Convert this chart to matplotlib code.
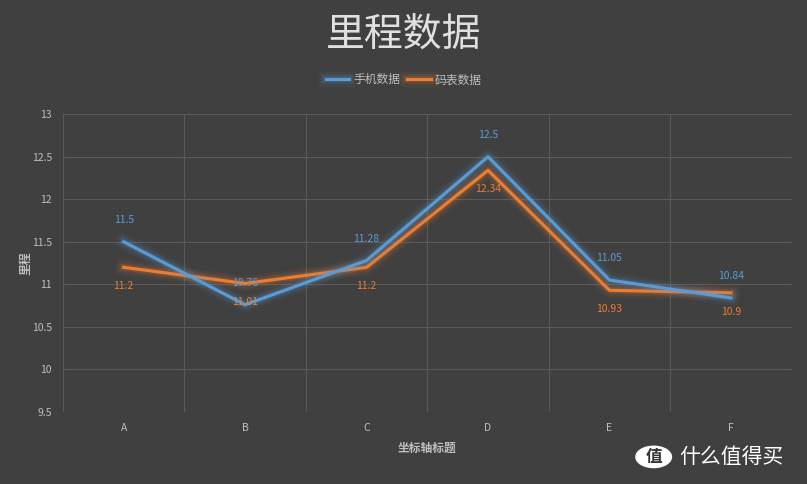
import matplotlib
matplotlib.use("Agg")
import matplotlib.pyplot as plt
import matplotlib.patheffects as pe
from matplotlib.patches import Circle

plt.rcParams['font.family'] = ['Noto Sans CJK SC', 'DejaVu Sans']

categories = ['A', 'B', 'C', 'D', 'E', 'F']
phone = [11.5, 10.76, 11.28, 12.5, 11.05, 10.84]
watch = [11.2, 11.01, 11.2, 12.34, 10.93, 10.9]
phone_labels = ['11.5', '10.76', '11.28', '12.5', '11.05', '10.84']
watch_labels = ['11.2', '11.01', '11.2', '12.34', '10.93', '10.9']
yticks = [9.5, 10, 10.5, 11, 11.5, 12, 12.5, 13]
ytick_labels = ['9.5', '10', '10.5', '11', '11.5', '12', '12.5', '13']

bg = '#404040'
grid = '#595959'
txt = '#bfbfbf'
blue = '#5b9bd5'
orange = '#ed7d31'

fig = plt.figure(figsize=(8.07, 4.84), dpi=100, facecolor=bg)
ax = fig.add_axes([0.078, 0.149, 0.903, 0.615], facecolor=bg)

x = list(range(len(categories)))

def glow(color):
    return [pe.Stroke(linewidth=11, foreground=color, alpha=0.06),
            pe.Stroke(linewidth=7.5, foreground=color, alpha=0.1),
            pe.Stroke(linewidth=4.5, foreground=color, alpha=0.18),
            pe.Normal()]

ax.plot(x, phone, color=blue, lw=2.2, label='手机数据', path_effects=glow(blue), zorder=4)
ax.plot(x, watch, color=orange, lw=2.2, label='码表数据', path_effects=glow(orange), zorder=3)

for xi, v, s in zip(x, phone, phone_labels):
    ax.annotate(s, (xi, v), xytext=(0, 12), textcoords='offset points',
                ha='center', va='bottom', fontsize=7.5, color=blue, zorder=6)
for xi, v, s in zip(x, watch, watch_labels):
    ax.annotate(s, (xi, v), xytext=(0, -10), textcoords='offset points',
                ha='center', va='top', fontsize=7.5, color=orange, zorder=6)

ax.set_xlim(-0.5, 5.5)
ax.set_ylim(9.5, 13)
ax.set_yticks(yticks)
ax.set_yticklabels(ytick_labels)
ax.set_xticks(x)
ax.set_xticklabels(categories)
ax.set_xticks([i - 0.5 for i in range(len(categories) + 1)], minor=True)
ax.grid(True, which='major', axis='y', color=grid, lw=0.8)
ax.grid(True, which='minor', axis='x', color=grid, lw=0.8)
ax.tick_params(which='both', length=0, colors=txt, labelsize=7.5, pad=8)
for sp in ax.spines.values():
    sp.set_visible(False)

ax.set_xlabel('坐标轴标题', color=txt, fontsize=8.5, fontweight='bold', labelpad=6)
ax.set_ylabel('里程', color=txt, fontsize=8.5, fontweight='bold')
ax.yaxis.set_label_coords(-0.042, 0.5)

fig.text(0.5, 0.927, '里程数据', ha='center', va='center', fontsize=28, color='#e0e0e0')
leg = fig.legend(loc='center', bbox_to_anchor=(0.5, 0.835), ncol=2, frameon=False,
                 fontsize=8.5, handlelength=2.0, columnspacing=0.6, handletextpad=0.3)
for t in leg.get_texts():
    t.set_color(txt)

# watermark
circ = Circle((0.810, 0.056), 0.022, transform=fig.transFigure, color='white', zorder=10)
fig.patches.append(circ)
fig.text(0.810, 0.056, '值', ha='center', va='center', fontsize=12, color='#333333',
         fontweight='bold', zorder=11)
fig.text(0.842, 0.056, '什么值得买', ha='left', va='center', fontsize=15, color='white', zorder=11)

fig.savefig('out.png', dpi=100, facecolor=bg)
